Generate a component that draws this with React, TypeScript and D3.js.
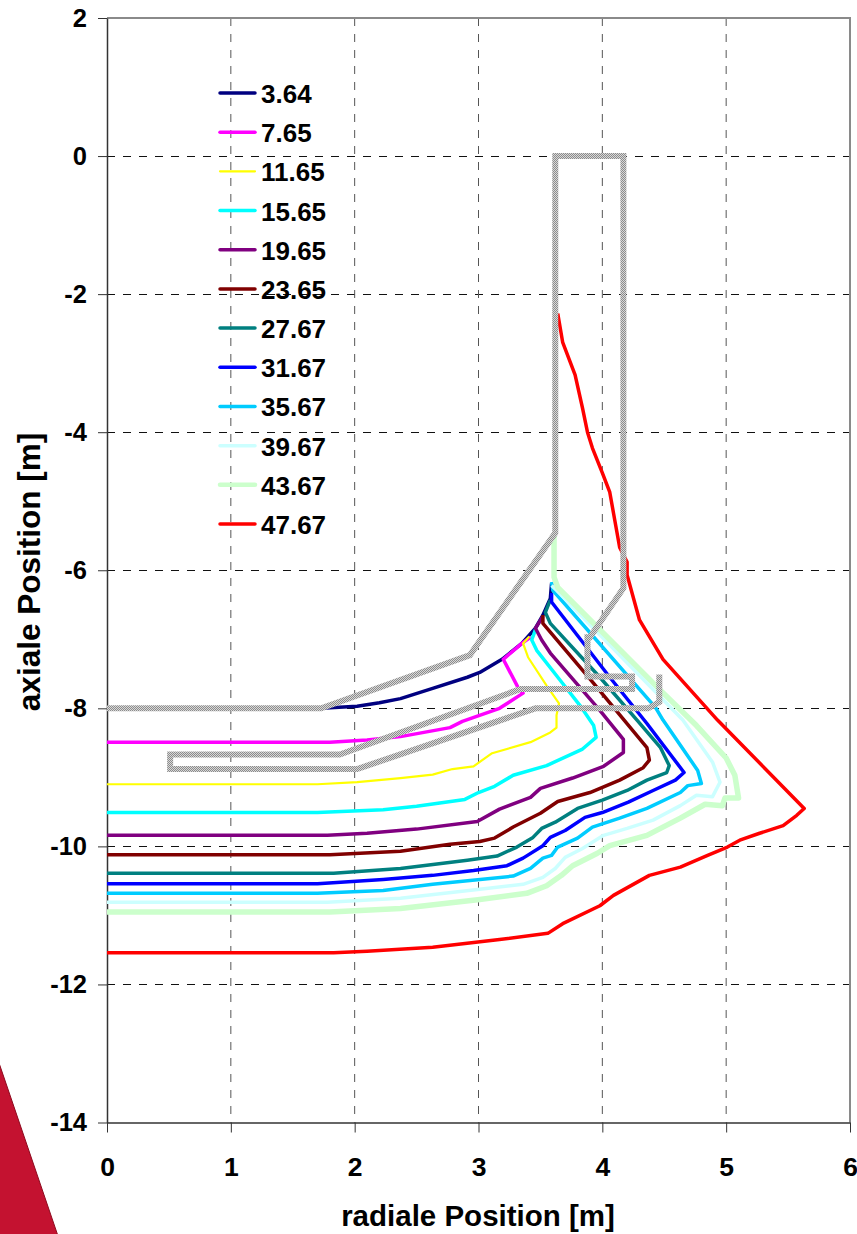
import { useEffect, useRef } from 'react'
import * as d3 from 'd3'

type Pt = [number, number]

const xTicks = [0, 1, 2, 3, 4, 5, 6]
const yTicks = [2, 0, -2, -4, -6, -8, -10, -12, -14]

const labels = ['3.64', '7.65', '11.65', '15.65', '19.65', '23.65', '27.67', '31.67', '35.67', '39.67', '43.67', '47.67']
const colors = ['#000080', '#ff00ff', '#ffff00', '#00ffff', '#800080', '#800000', '#008080', '#0000ff', '#00ccff', '#ccffff', '#ccffcc', '#ff0000']
const widths = [3.5, 3.5, 2.2, 3.5, 3.5, 3.5, 3.5, 3.5, 3.5, 3.5, 5.5, 3.5]

const s364: Pt[] = [[1.73, -8], [2.02, -7.97], [2.2, -7.92], [2.37, -7.86], [2.63, -7.71], [2.91, -7.55], [3.01, -7.48], [3.19, -7.29], [3.35, -7.06], [3.46, -6.84], [3.52, -6.65], [3.58, -6.41], [3.59, -6.19]]
const s765: Pt[] = [[0, -8.49], [1.8, -8.49], [2.1, -8.46], [2.37, -8.41], [2.77, -8.28], [2.87, -8.19], [3.17, -8], [3.36, -7.78], [3.32, -7.7], [3.2, -7.29], [3.35, -7.06], [3.42, -6.97]]
const s1165: Pt[] = [[0, -9.1], [1.7, -9.1], [2.02, -9.07], [2.37, -9.01], [2.63, -8.96], [2.79, -8.88], [2.96, -8.84], [3.11, -8.65], [3.42, -8.49], [3.58, -8.35], [3.63, -8.28], [3.63, -8.1], [3.65, -7.93], [3.55, -7.67], [3.4, -7.26], [3.36, -7.06], [3.41, -6.96]]
const s1565: Pt[] = [[0, -9.51], [1.7, -9.51], [2.23, -9.47], [2.5, -9.42], [2.89, -9.32], [3, -9.22], [3.13, -9.13], [3.28, -8.97], [3.55, -8.83], [3.84, -8.59], [3.95, -8.42], [3.93, -8.25], [3.82, -7.96], [3.68, -7.64], [3.47, -7.16], [3.43, -7.01], [3.46, -6.86]]
const s1965: Pt[] = [[0, -9.84], [1.78, -9.84], [2.1, -9.81], [2.5, -9.75], [2.99, -9.64], [3.17, -9.46], [3.42, -9.29], [3.5, -9.16], [3.76, -9.01], [4.01, -8.84], [4.17, -8.64], [4.17, -8.45], [3.98, -8.03], [3.58, -7.2], [3.51, -7.01], [3.46, -6.84], [3.52, -6.67]]
const s2365: Pt[] = [[0, -10.12], [1.8, -10.12], [2.37, -10.07], [2.77, -9.97], [3.01, -9.93], [3.13, -9.88], [3.28, -9.72], [3.5, -9.52], [3.64, -9.35], [3.9, -9.22], [4.14, -9.04], [4.33, -8.86], [4.38, -8.75], [4.36, -8.57], [3.93, -7.64], [3.52, -6.77], [3.52, -6.65]]
const s2767: Pt[] = [[0, -10.39], [1.83, -10.39], [2.37, -10.32], [2.91, -10.2], [3.15, -10.14], [3.31, -10.01], [3.44, -9.87], [3.51, -9.74], [3.62, -9.65], [3.8, -9.45], [4, -9.33], [4.2, -9.19], [4.36, -9.04], [4.52, -8.93], [4.54, -8.83], [4.47, -8.57], [4.28, -8.17], [3.98, -7.55], [3.58, -6.77], [3.54, -6.61], [3.58, -6.43]]
const s3167: Pt[] = [[0, -10.54], [1.7, -10.54], [2.23, -10.48], [2.63, -10.42], [2.96, -10.35], [3.23, -10.28], [3.36, -10.17], [3.52, -9.99], [3.58, -9.87], [3.7, -9.77], [3.86, -9.58], [4, -9.51], [4.21, -9.36], [4.41, -9.19], [4.59, -9.04], [4.66, -8.93], [4.36, -8.22], [4.06, -7.55], [3.59, -6.46], [3.59, -6.33]]
const s3567: Pt[] = [[0, -10.68], [1.7, -10.68], [2.23, -10.64], [2.63, -10.55], [3.28, -10.43], [3.42, -10.32], [3.52, -10.17], [3.59, -10.13], [3.64, -10.01], [3.8, -9.88], [3.92, -9.72], [4.14, -9.59], [4.36, -9.45], [4.63, -9.22], [4.69, -9.12], [4.8, -9.09], [4.77, -8.9], [4.49, -8.17], [4.43, -7.99], [3.6, -6.29], [3.59, -6.17]]
const s3967: Pt[] = [[0, -10.81], [1.78, -10.81], [2.37, -10.75], [3.01, -10.62], [3.36, -10.55], [3.52, -10.45], [3.62, -10.32], [3.7, -10.16], [3.84, -10.03], [4.01, -9.84], [4.2, -9.74], [4.41, -9.62], [4.63, -9.41], [4.76, -9.26], [4.89, -9.28], [4.95, -9.07], [4.89, -8.78], [4.65, -8.17], [3.63, -6.29], [3.59, -6.22]]
const s4367: Pt[] = [[0, -10.95], [1.8, -10.95], [2.37, -10.9], [3.01, -10.77], [3.39, -10.68], [3.55, -10.57], [3.67, -10.42], [3.76, -10.28], [3.96, -10.1], [4.06, -9.99], [4.36, -9.84], [4.63, -9.59], [4.83, -9.39], [4.97, -9.41], [4.99, -9.3], [5.1, -9.3], [5.07, -8.97], [5, -8.72], [4.76, -8.25], [4.47, -7.74], [3.64, -6.25], [3.61, -6.1], [3.61, -5.49]]
const s4767: Pt[] = [[0, -11.54], [1.83, -11.54], [2.1, -11.52], [2.63, -11.46], [3.17, -11.35], [3.56, -11.26], [3.68, -11.12], [3.98, -10.86], [4.09, -10.71], [4.38, -10.42], [4.63, -10.3], [4.85, -10.13], [5.01, -10.01], [5.11, -9.91], [5.27, -9.81], [5.46, -9.7], [5.57, -9.55], [5.63, -9.45], [4.93, -8.17], [4.49, -7.29], [4.3, -6.72], [4.2, -6.07], [4.2, -5.88], [4.14, -5.67], [4.09, -5.17], [4.06, -4.87], [4, -4.59], [3.92, -4.23], [3.88, -4], [3.84, -3.65], [3.78, -3.17], [3.68, -2.7], [3.64, -2.28]]

const series = [s364, s765, s1165, s1565, s1965, s2365, s2767, s3167, s3567, s3967, s4367, s4767]

// vessel outline
const vessel: Pt[] = [[0, -8], [1.73, -8], [2.93, -7.23], [3.62, -5.46], [3.62, 0], [4.17, 0], [4.17, -6.26], [3.9, -6.97], [3.88, -6.97], [3.88, -7.54], [4.24, -7.54], [4.24, -7.72], [3.34, -7.72], [1.88, -8.67], [0.51, -8.67], [0.51, -8.88], [2.02, -8.88], [3.46, -8], [4.37, -8], [4.46, -7.91], [4.46, -7.51]]

const FONT = '"Liberation Sans", Arial, sans-serif'

export default function App() {
  const svgRef = useRef<SVGSVGElement>(null)

  useEffect(() => {
    if (!svgRef.current) return

    const svg = d3.select(svgRef.current)
    svg.selectAll('*').remove()

    const x = d3.scaleLinear().domain([0, 6]).range([107, 850])
    const y = d3.scaleLinear().domain([2, -14]).range([18, 1122.5])

    // Logo corner
    svg.append('path')
      .attr('d', 'M-2,1060 L58,1236 L-2,1236 Z')
      .attr('fill', '#c41230')
      .attr('stroke', '#8c0a1e')
      .attr('stroke-width', 1)

    // Stippled fill for the vessel
    const pattern = svg.append('defs').append('pattern')
      .attr('id', 'stipple')
      .attr('patternUnits', 'userSpaceOnUse')
      .attr('width', 2)
      .attr('height', 2)
    pattern.append('rect').attr('width', 2).attr('height', 2).attr('fill', '#d8d8d8')
    pattern.append('rect').attr('width', 1).attr('height', 1).attr('fill', '#8c8c8c')
    pattern.append('rect').attr('x', 1).attr('y', 1).attr('width', 1).attr('height', 1).attr('fill', '#8c8c8c')

    // Grid
    svg.append('g').selectAll('line')
      .data(yTicks.filter(d => d !== 2 && d !== -14))
      .enter()
      .append('line')
      .attr('x1', x(0))
      .attr('x2', x(6))
      .attr('y1', d => Math.round(y(d)) + 0.5)
      .attr('y2', d => Math.round(y(d)) + 0.5)
      .attr('stroke', '#111')
      .attr('stroke-dasharray', '8 8')

    svg.append('g').selectAll('line')
      .data(xTicks.filter(d => d !== 0 && d !== 6))
      .enter()
      .append('line')
      .attr('x1', d => x(d))
      .attr('x2', d => x(d))
      .attr('y1', y(2))
      .attr('y2', y(-14))
      .attr('stroke', '#555')
      .attr('stroke-dasharray', '8 8')

    // Top and right frame
    svg.append('path')
      .attr('d', `M${x(0)},${y(2)} H${x(6)} V${y(-14)}`)
      .attr('fill', 'none')
      .attr('stroke', '#8a8a8a')
      .attr('stroke-width', 2)

    // Axes
    const xAxis = svg.append('g')
      .attr('transform', `translate(0, ${y(-14)})`)
      .call(d3.axisBottom(x).tickValues(xTicks).tickFormat(d3.format('d')).tickSize(10).tickPadding(25).tickSizeOuter(0))
    const yAxis = svg.append('g')
      .attr('transform', `translate(${x(0)}, 0)`)
      .call(d3.axisLeft(y).tickValues(yTicks).tickFormat(d => String(d)).tickSize(9).tickPadding(11).tickSizeOuter(0))

    for (const axis of [xAxis, yAxis]) {
      axis.selectAll('path').attr('stroke', '#333').attr('stroke-width', 1.5)
      axis.selectAll('line').attr('stroke', '#333')
      axis.selectAll('text')
        .style('font-family', FONT)
        .style('font-size', axis === xAxis ? '26.5px' : '25.5px')
        .style('font-weight', 'bold')
        .attr('fill', '#000')
    }

    // Temperature fronts
    const line = d3.line<Pt>().x(d => x(d[0])).y(d => y(d[1]))

    svg.append('g').selectAll('path')
      .data(series)
      .enter()
      .append('path')
      .attr('d', d => line(d))
      .attr('fill', 'none')
      .attr('stroke', (d, i) => colors[i])
      .attr('stroke-width', (d, i) => widths[i])
      .attr('stroke-linejoin', 'round')

    svg.append('path')
      .attr('d', line(vessel))
      .attr('fill', 'none')
      .attr('stroke', 'url(#stipple)')
      .attr('stroke-width', 6)
      .attr('stroke-linejoin', 'miter')

    // Legend
    const legendY = d3.scalePoint<string>().domain(labels).range([93, 524])
    const legend = svg.append('g')
    labels.forEach((label, i) => {
      legend.append('line')
        .attr('x1', 220)
        .attr('x2', 255)
        .attr('y1', legendY(label)!)
        .attr('y2', legendY(label)!)
        .attr('stroke', colors[i])
        .attr('stroke-width', widths[i] === 5.5 ? 4.5 : widths[i])
        .attr('stroke-linecap', 'round')

      legend.append('text')
        .attr('x', 261)
        .attr('y', legendY(label)! + 10)
        .style('font-family', FONT)
        .style('font-size', '26px')
        .style('font-weight', 'bold')
        .text(label)
    })

    // Axis titles
    svg.append('text')
      .attr('x', 478)
      .attr('y', 1226)
      .attr('text-anchor', 'middle')
      .style('font-family', FONT)
      .style('font-size', '29.5px')
      .style('font-weight', 'bold')
      .text('radiale Position [m]')

    svg.append('text')
      .attr('transform', `translate(40, 572) rotate(-90)`)
      .attr('text-anchor', 'middle')
      .style('font-family', FONT)
      .style('font-size', '31.5px')
      .style('font-weight', 'bold')
      .text('axiale Position [m]')
  }, [])

  return (
    <svg
      ref={svgRef}
      width={857}
      height={1234}
      style={{ position: 'absolute', left: 0, top: 0, background: '#fff', display: 'block' }}
    ></svg>
  )
}
